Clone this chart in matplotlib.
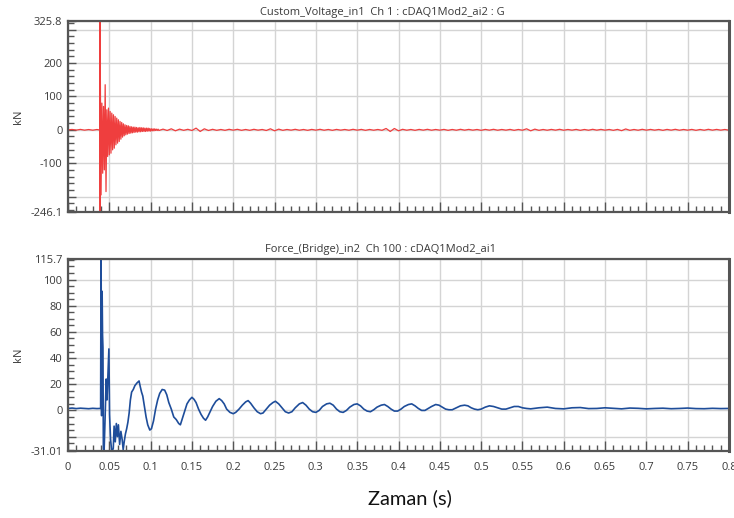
import numpy as np
import matplotlib
matplotlib.use("Agg")
import matplotlib.pyplot as plt
from matplotlib.ticker import MultipleLocator

plt.rcParams["font.family"] = ["Open Sans", "DejaVu Sans"]
plt.rcParams["axes.unicode_minus"] = False

# Kanal 1 (G) - darbe öncesi, darbe anı ve sonrası
volt_pre_t = [0.000, 0.005, 0.010, 0.015, 0.020, 0.025, 0.030, 0.035, 0.0384, 0.0386]
volt_pre_v = [0.0, 1.0, -0.8, 1.2, -1.0, 0.8, -1.1, 0.9, -0.5, 0.0]

volt_spike_t = [0.0387, 0.0389]
volt_spike_v = [400.0, -300.0]

volt_burst_v = [
    225, -195, 80, -130, 70, -120, 135, -185, 60, -80,
    65, -75, 55, -70, 50, -60, 45, -55, 40, -45,
    35, -40, 30, -35, 25, -28, 22, -22, 18, -18,
    15, -15, 13, -13, 12, -11, 10, -10, 9, -9,
    8, -8, 8, -7, 7, -7, 6, -6, 7, -6,
    6, -5, 6, -5, 5, -5, 5, -4, 5, -4,
    4, -4, 3, -3, 3, -3, 3, -2, 2, -2, 2, -2,
]

volt_tail_v = [
    2, -2, 3, -3, 2, -1.5, 1.5, -2, 5, -5,
    3, -2, 1.5, -1.5, 1, -1.5, 1.5, -1, 1.5, -1.5,
    1, -1.5, 1.5, -1, 1, -2, 3, -3, 2, -1.5,
    1, -1, 1.5, -1.2, 1, -1.5, 1.2, -1, 1.5, -1.2,
    1, -1.5, 1.2, -1, 1, -1.2, 1.5, -1, 1.2, -1.5,
    1, -1.2, 1, -1.5, 4, -5, 4, -3, 1.5, -1.2,
    1, -1.5, 1.2, -1, 1.5, -1.2, 1, -1, 1.2, -1.5,
    1, -1.2, 1.5, -1, 1.2, -1, 1, -1.5, 1.2, -1,
    1.5, -1.2, 1, -1, 1.2, -1.5, 1, -1.2, 3, -3,
    2, -1.5, 1, -1.2, 1.2, -1, 1.5, -1.2, 1, -1,
    1.2, -1.5, 1, -1.2, 1.5, -1, 1.2, -1, 1, -1.5,
    1.2, -2.5, 2.5, -1.5, 1, -1.2, 1.5, -1, 1.2, -1,
    1, -1.5, 1.2, -1, 1.5, -1.2, 1, -1, 1.2, -1.5,
    1, -1.2, 1.5, -1, 1.2, -1, 1, -1.2,
]

# Kanal 100 (kuvvet, kN)
force_t = [
    0.000, 0.005, 0.010, 0.015, 0.020, 0.025, 0.030, 0.035, 0.0395,
    0.0400, 0.0407, 0.0413, 0.0418, 0.0423, 0.0428, 0.0436, 0.0448, 0.0462, 0.0472,
    0.0495, 0.0503, 0.0515, 0.0530, 0.0548, 0.0558, 0.0572, 0.0585, 0.0598, 0.0610,
    0.0625, 0.0640, 0.0655, 0.0668, 0.0680, 0.0695, 0.0710, 0.0725, 0.0740, 0.0755,
    0.0770, 0.0790, 0.0810, 0.0835, 0.0860, 0.0875, 0.0890, 0.0905, 0.0925, 0.0945,
    0.0965, 0.0990, 0.1010, 0.1035, 0.1060, 0.1085, 0.1110, 0.1140, 0.1170, 0.1195,
    0.1220, 0.1250, 0.1280, 0.1310, 0.1340, 0.1360, 0.1385, 0.1410, 0.1440, 0.1470,
    0.1500, 0.1525, 0.1550, 0.1580, 0.1610, 0.1640, 0.1665, 0.1690, 0.1720, 0.1750,
    0.1790, 0.1830, 0.1860, 0.1890, 0.1920, 0.1960, 0.2000, 0.2030, 0.2070, 0.2110,
    0.2150, 0.2180, 0.2210, 0.2250, 0.2290, 0.2330, 0.2360, 0.2400, 0.2440, 0.2480,
    0.2510, 0.2550, 0.2590, 0.2630, 0.2670, 0.2710, 0.2750, 0.2800, 0.2840, 0.2880,
    0.2920, 0.2960, 0.3000, 0.3040, 0.3080, 0.3130, 0.3170, 0.3210, 0.3250, 0.3290,
    0.3330, 0.3370, 0.3410, 0.3460, 0.3500, 0.3540, 0.3580, 0.3620, 0.3660, 0.3700,
    0.3740, 0.3790, 0.3830, 0.3870, 0.3910, 0.3950, 0.3990, 0.4030, 0.4070, 0.4120,
    0.4160, 0.4200, 0.4240, 0.4280, 0.4320, 0.4360, 0.4400, 0.4450, 0.4490, 0.4530,
    0.4570, 0.4610, 0.4650, 0.4700, 0.4750, 0.4800, 0.4840, 0.4880, 0.4920, 0.4960,
    0.5000, 0.5050, 0.5100, 0.5150, 0.5200, 0.5250, 0.5300, 0.5350, 0.5400, 0.5450,
    0.5500, 0.5550, 0.5600, 0.5700, 0.5800, 0.5900, 0.6000, 0.6100, 0.6200, 0.6300,
    0.6400, 0.6500, 0.6600, 0.6700, 0.6800, 0.6900, 0.7000, 0.7100, 0.7200, 0.7300,
    0.7400, 0.7500, 0.7600, 0.7700, 0.7800, 0.7900, 0.8000,
]
force_v = [
    1.5, 1.8, 1.4, 1.7, 1.5, 1.3, 1.6, 1.4, 1.5,
    125, -4, 91, 58, 48, -29, -33, -8, 24, 8,
    47, -3, -22, -32, -29, -12, -24, -10, -20, -11,
    -26, -16, -22, -30, -24, -18, -14, -9, -2, 8,
    14, 16, 19, 21, 22.5, 18, 14, 11, 3, -5,
    -11, -15, -14, -8, 1, 8, 13, 16, 15.5, 12,
    6, 1, -5, -7, -10, -11, -6, -1, 5, 8,
    10, 8.5, 6, 1, -3, -6, -7.5, -5, -1, 3,
    7, 9, 7.5, 5, 1, -1.5, -2.5, -1.5, 1, 4,
    6.5, 7.5, 5.5, 2, -1, -2.5, -2, 1, 4, 6,
    7, 5, 2, -1, -2, -1, 2, 5, 6, 4,
    1, -1, -1.5, 0, 3, 5, 5.5, 4, 1, -1,
    -1.5, 0, 2.5, 4.5, 5, 3.5, 1, -0.5, -1, 0.5,
    2.5, 4, 4.5, 3, 1, -0.5, -0.5, 1, 3, 4.5,
    5, 3.5, 1.5, 0, 0, 1.5, 3, 4.5, 4, 2.5,
    1, 0.5, 0.5, 2, 3.5, 4, 3.5, 2, 1, 0.5,
    1, 2.5, 3.5, 3, 2, 1, 1, 2, 3, 3,
    2, 1.5, 1.2, 2, 2.5, 1.5, 1.2, 2, 2.2, 1.4,
    1.5, 2, 1.6, 1.2, 1.8, 1.6, 1.2, 1.5, 1.7, 1.3,
    1.5, 1.8, 1.4, 1.3, 1.6, 1.4, 1.5,
]

volt_title = "Custom_Voltage_in1  Ch 1 : cDAQ1Mod2_ai2 : G"
force_title = "Force_(Bridge)_in2  Ch 100 : cDAQ1Mod2_ai1"

volt_lim = (-246.1, 325.8)
force_lim = (-31.01, 115.7)
volt_ticks = [-246.1, -200, -100, 0, 100, 200, 300, 325.8]
volt_labels = ["-246.1", "", "-100", "0", "100", "200", "", "325.8"]
force_ticks = [-31.01, -20, 0, 20, 40, 60, 80, 100, 115.7]
force_labels = ["-31.01", "", "0", "20", "40", "60", "80", "100", "115.7"]
x_ticks = [round(0.05 * i, 2) for i in range(17)]
x_labels = ["0"] + [f"{v:g}" for v in x_ticks[1:]]

# zaman eksenleri
volt_burst_t = np.linspace(0.039, 0.110, len(volt_burst_v))
volt_tail_t = np.linspace(0.115, 0.800, len(volt_tail_v))
volt_t = np.concatenate([volt_pre_t, volt_spike_t, volt_burst_t, volt_tail_t])
volt_v = np.concatenate([volt_pre_v, volt_spike_v, volt_burst_v, volt_tail_v])

W, H = 734, 518
fig = plt.figure(figsize=(W / 100, H / 100), dpi=100)
ax1 = fig.add_axes([68 / W, 1 - 212 / H, 661 / W, 191 / H])
ax2 = fig.add_axes([68 / W, 1 - 451 / H, 661 / W, 192 / H])

spine_col = "#555555"
text_col = "#3a3a3a"


def style_axes(ax, yticks, ylabels, ylim, yminor, show_x):
    ax.set_xlim(0, 0.8)
    ax.set_ylim(*ylim)
    ax.set_xticks(x_ticks)
    ax.set_xticklabels(x_labels if show_x else [])
    ax.xaxis.set_minor_locator(MultipleLocator(0.01))
    ax.set_yticks(yticks)
    ax.set_yticklabels(ylabels)
    ax.yaxis.set_minor_locator(MultipleLocator(yminor))
    ax.grid(True, which="major", color="#d4d4d4", linewidth=1.0)
    ax.set_axisbelow(True)
    ax.tick_params(which="both", direction="in", color=spine_col, labelcolor=text_col,
                   labelsize=8, top=False, right=False)
    ax.tick_params(axis="x", which="major", length=7, width=1.0, pad=8)
    ax.tick_params(axis="x", which="minor", length=4, width=1.0)
    ax.tick_params(axis="y", which="major", length=6, width=1.0, pad=4)
    ax.tick_params(axis="y", which="minor", length=4, width=1.0)
    for name, sp in ax.spines.items():
        sp.set_color(spine_col)
        sp.set_linewidth(1.6 if name != "right" else 2.2)


ax1.plot(volt_t, volt_v, color="#ef3e3e", linewidth=0.9)
style_axes(ax1, volt_ticks, volt_labels, volt_lim, 20, False)

ax2.plot(force_t, force_v, color="#1e4d9a", linewidth=1.2)
style_axes(ax2, force_ticks, force_labels, force_lim, 5, True)

fig.text(382 / W, 1 - 13 / H, volt_title, ha="center", va="center", fontsize=8, color=text_col)
fig.text(381 / W, 1 - 250 / H, force_title, ha="center", va="center", fontsize=8, color=text_col)
fig.text(18 / W, 1 - 117 / H, "kN", rotation=90, ha="center", va="center", fontsize=8, color=text_col)
fig.text(18 / W, 1 - 355 / H, "kN", rotation=90, ha="center", va="center", fontsize=8, color=text_col)
fig.text(410 / W, 1 - 498 / H, "Zaman (s)", ha="center", va="center", fontsize=14.5,
         family=["Lato", "DejaVu Sans"], color="#111111")

fig.savefig("out.png", dpi=100)
